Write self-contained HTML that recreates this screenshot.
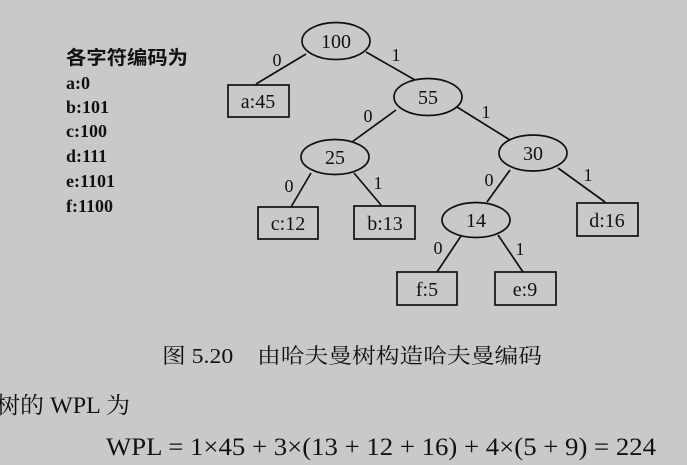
<!DOCTYPE html>
<html><head><meta charset="utf-8"><style>
html,body{margin:0;padding:0;background:#c9c9c9;}
body{width:687px;height:465px;overflow:hidden;position:relative;}
svg{position:absolute;left:0;top:0;}
</style></head><body>
<svg width="687" height="465" viewBox="0 0 687 465" xmlns="http://www.w3.org/2000/svg">
<g stroke="#111" stroke-width="1.7" fill="none">
<line x1="306" y1="54" x2="256" y2="84"/>
<line x1="366" y1="52" x2="415" y2="80"/>
<line x1="396" y1="110" x2="352" y2="142"/>
<line x1="457" y1="107" x2="510" y2="140"/>
<line x1="311" y1="173" x2="291" y2="207"/>
<line x1="354" y1="173" x2="381" y2="205"/>
<line x1="510" y1="170" x2="487" y2="202"/>
<line x1="558" y1="168" x2="605" y2="202"/>
<line x1="461" y1="236" x2="437" y2="272"/>
<line x1="498" y1="235" x2="523" y2="272"/>
<ellipse cx="336" cy="41" rx="34" ry="18.5"/>
<ellipse cx="428" cy="97" rx="34" ry="18.5"/>
<ellipse cx="335" cy="157" rx="34" ry="17.5"/>
<ellipse cx="533" cy="153" rx="34" ry="18"/>
<ellipse cx="476" cy="220" rx="34" ry="17.5"/>
<rect x="228" y="85" width="61" height="32"/>
<rect x="258" y="207" width="60" height="32"/>
<rect x="354" y="206" width="61" height="33"/>
<rect x="577" y="203" width="61" height="33"/>
<rect x="397" y="272" width="60" height="33"/>
<rect x="495" y="272" width="61" height="33"/>
</g>
<g font-family="Liberation Serif, serif" font-size="20" fill="#111" text-anchor="middle">
<text x="336" y="48">100</text>
<text x="428" y="104">55</text>
<text x="335" y="164">25</text>
<text x="533" y="160">30</text>
<text x="476" y="227">14</text>
<text x="258" y="108">a:45</text>
<text x="288" y="230">c:12</text>
<text x="385" y="230">b:13</text>
<text x="607" y="227">d:16</text>
<text x="427" y="296">f:5</text>
<text x="525" y="296">e:9</text>
<g font-size="18">
<text x="277" y="66">0</text><text x="396" y="61">1</text>
<text x="368" y="122">0</text><text x="486" y="118">1</text>
<text x="289" y="192">0</text><text x="378" y="189">1</text>
<text x="489" y="186">0</text><text x="588" y="181">1</text>
<text x="438" y="254">0</text><text x="520" y="255">1</text>
</g>
</g>
<g font-family="Liberation Serif, 'Noto Serif CJK SC', serif" font-size="18" font-weight="bold" fill="#111">
<text x="66" y="64" font-size="19" font-family="'Noto Sans CJK SC', sans-serif" textLength="122" lengthAdjust="spacingAndGlyphs">各字符编码为</text>
<text x="66" y="89">a:0</text>
<text x="66" y="113">b:101</text>
<text x="66" y="137">c:100</text>
<text x="66" y="162">d:111</text>
<text x="66" y="187">e:1101</text>
<text x="66" y="212">f:1100</text>
</g>
<g font-family="Liberation Serif, 'Noto Serif CJK SC', serif" fill="#111">
<text x="162" y="363" font-size="21" textLength="380" lengthAdjust="spacingAndGlyphs">图 5.20　由哈夫曼树构造哈夫曼编码</text>
<text x="-4" y="413" font-size="23" textLength="134" lengthAdjust="spacingAndGlyphs">树的 WPL 为</text>
<text x="106" y="455" font-size="25" textLength="550" lengthAdjust="spacingAndGlyphs">WPL = 1×45 + 3×(13 + 12 + 16) + 4×(5 + 9) = 224</text>
</g>
</svg>
</body></html>
